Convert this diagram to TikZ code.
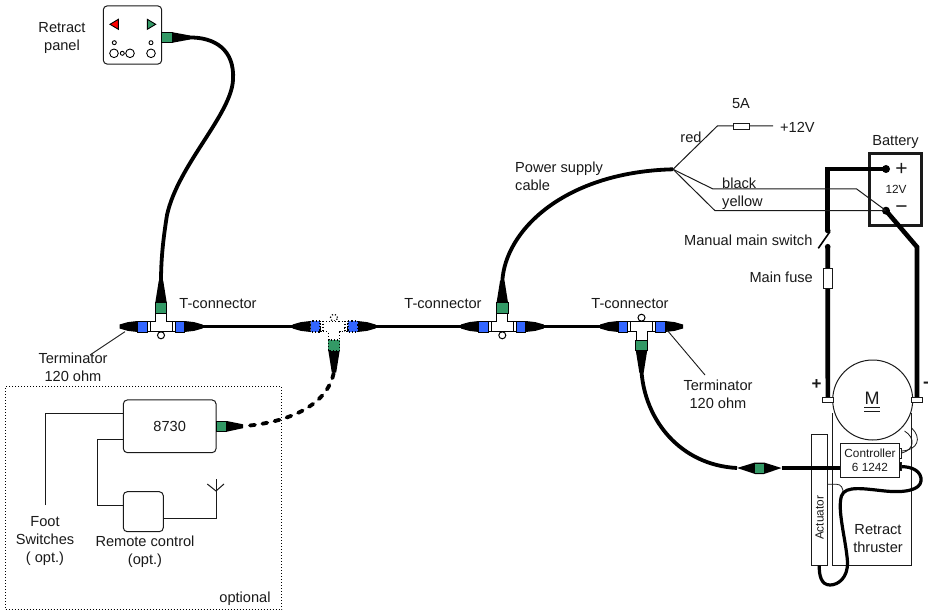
\documentclass[tikz,border=0pt]{standalone}
\usepackage{fontspec}
\setmainfont{Liberation Sans}
\definecolor{cblue}{HTML}{3366FF}
\definecolor{cgreen}{HTML}{339966}
\definecolor{ink}{HTML}{1A1A1A}
\newcommand\TConn[5]{%
 \begin{scope}[shift={(#2,#3)},yscale=#4,#5]
  \fill[black] (-23.5,-5.5) -- (-33,-4.4) -- (-41.5,-2) -- (-41.5,2) -- (-33,4.4) -- (-23.5,5.5) -- cycle;
  \fill[black] (23.5,-5.5) -- (33,-4.4) -- (41.5,-2) -- (41.5,2) -- (33,4.4) -- (23.5,5.5) -- cycle;
  \fill[black] (-5.7,-24) -- (-2.2,-46) -- (2.2,-46) -- (5.7,-24) -- cycle;
  \draw[tcline,fill=white] (0,8.8) circle (3.5);
  \draw[tcline,fill=white] (-11,-5.3) -- (-5.5,-5.3) -- (-5.5,-13.5) -- (5.5,-13.5) -- (5.5,-5.3) -- (11,-5.3) -- (11,5.3) -- (-11,5.3) -- cycle;
  \draw[tcline,fill=white] (-14,-5.3) rectangle (-11,5.3);
  \draw[tcline,fill=white] (14,-5.3) rectangle (11,5.3);
  \draw[tcline,fill=cblue] (-23.5,-5.5) rectangle (-14,5.5);
  \draw[tcline,fill=cblue] (23.5,-5.5) rectangle (14,5.5);
  \draw[tcline,fill=cgreen] (-5.7,-24) rectangle (5.7,-13.5);
  \coordinate (#1-l) at (-41,0);
  \coordinate (#1-r) at (41,0);
  \coordinate (#1-s) at (0,-45);
 \end{scope}}
\tikzset{
 tcline/.style={draw=black,line width=1pt},
 lbl/.style={font=\fontsize{14.6}{17}\selectfont,text=ink,inner sep=0pt,align=center},
 small/.style={font=\fontsize{11.8}{14}\selectfont,text=ink,inner sep=0pt,align=center},
 cable/.style={line width=3.8pt,black},
 thin/.style={line width=1pt,ink},
 power/.style={line width=4.6pt,black},
 rbox/.style={draw=ink,line width=1pt,rounded corners=4pt,fill=white,inner sep=0pt},
 leader/.style={line width=0.9pt,ink}
}
\begin{document}
\begin{tikzpicture}[x=1pt,y=-1pt]
\useasboundingbox[fill=white] (0,0) rectangle (931,612);

% retract panel
\node[rbox,minimum width=58.4pt,minimum height=58.3pt] (panel) at (132.5,35) {};
\fill[red,draw=black,line width=0.9pt] (110,24.3) -- (118.3,19.3) -- (118.3,29.3) -- cycle;
\fill[cgreen,draw=black,line width=0.9pt] (155.7,24.3) -- (147.3,19.3) -- (147.3,29.3) -- cycle;
\draw[line width=0.9pt] (114.3,42.7) circle (2) (151,42.7) circle (2) (114,53.3) circle (4.3) (130,53.3) circle (4.3) (151,53.3) circle (4.3) (122.3,53.3) circle (2);
\fill (172.7,32.3) -- (190,35.5) -- (190,39.5) -- (172.7,42.7) -- cycle;
\draw[tcline,fill=cgreen] (161.7,32.3) rectangle (172.7,42.7);
\coordinate (panelc) at (189,37.5);

% T connectors
\TConn{ta}{161}{326.5}{1}{}
\TConn{tb}{334}{326.5}{-1}{tcline/.style={draw=black,line width=1.2pt,dotted}}
\TConn{tc}{502.3}{326.5}{1}{}
\TConn{td}{641.5}{326.5}{-1}{}

\coordinate (psu) at (673,169.3);
\draw[cable] (panelc) .. controls (215,37) and (235,50) .. (233,80) .. controls (231,115) and (178,165) .. (167,215) .. controls (163,240) and (161,260) .. (ta-s);
\draw[cable] (ta-r) -- (tb-l);
\draw[cable] (tb-r) -- (tc-l);
\draw[cable] (tc-r) -- (td-l);
\draw[cable] (tc-s) .. controls (505,230) and (565,172) .. (psu);

% inline connector
\coordinate (inL) at (737,468);
\coordinate (inR) at (781.5,468);
\fill (inL) -- (755,462.5) -- (764,462.5) -- (inR) -- (764,474) -- (755,474) -- cycle;
\fill[cgreen] (755,463.7) rectangle (764,473.3);
\draw[cable] (td-s) .. controls (645,420) and (680,465) .. (inL);

% power supply branches
\coordinate (redA) at (717.3,126);
\coordinate (plus) at (773,126);
\coordinate (blA) at (713,189);
\coordinate (blB) at (856.7,189);
\coordinate (yeA) at (715,210.7);
\draw[thin] (psu) -- (redA) -- (plus);
\node[draw=ink,line width=1pt,fill=white,minimum width=16pt,minimum height=5.5pt,inner sep=0pt] (fuse5) at (741.3,126.7) {};

% thruster
\draw[thin,fill=white] (811.7,434) rectangle (827.7,565.7);
\node[small,rotate=90] (act) at (819.5,518) {Actuator};
\draw[thin] (832.7,413) -- (832.7,565.7) -- (911.7,565.7) -- (911.7,413);
\node[lbl] (rt) at (878,538.5) {Retract\\[1pt]thruster};
\node[draw=ink,line width=1pt,fill=white,minimum width=58.6pt,minimum height=34.4pt,inner sep=0pt,small] (ctrl) at (870,460.5) {Controller\\[0.5pt]6 1242};
\draw[thin,fill=white] (899.3,448) rectangle (901.8,458);
\draw[thin,line width=0.8pt] (904.5,431) .. controls (916,438) and (914,450) .. (901.8,453);
\draw[thin,line width=0.8pt] (911.7,428) .. controls (922,438) and (918,450) .. (901.8,451);
\draw[thin,line width=0.8pt] (827.7,484.3) -- (836.7,484.3) .. controls (841,484.3) and (843,488) .. (843.3,493);

% motor
\node[draw=ink,line width=1pt,fill=white,circle,minimum size=80pt,inner sep=0pt] (motor) at (872.7,400) {};
\node[font=\fontsize{18}{20}\selectfont,text=ink,inner sep=0pt] (mlab) at (872,398.5) {M};
\draw[line width=1pt,ink] (864,407.3) -- (880,407.3) (864,411.5) -- (880,411.5);
\node[draw=ink,line width=1pt,fill=white,minimum width=11pt,minimum height=5pt,inner sep=0pt] (tpos) at (827.8,399.8) {};
\node[draw=ink,line width=1pt,fill=white,minimum width=11pt,minimum height=5pt,inner sep=0pt] (tneg) at (917,399.8) {};
\node[lbl,font=\fontsize{17}{19}\selectfont\bfseries] (pl) at (816.5,385) {+};
\node[lbl,font=\fontsize{17}{19}\selectfont\bfseries] (mi) at (926,385) {-};

% thick cable controller to actuator
\coordinate (ctrlA) at (899.5,466.7);
\coordinate (actB) at (819.3,565.5);
\draw[cable] (inR) -- (ctrl.west |- inR);
\draw[cable,line width=3.2pt] (ctrlA) .. controls (913,466) and (922,472) .. (921,481) .. controls (920,490) and (905,493) .. (885,491) .. controls (865,489) and (845,485) .. (841.5,496) .. controls (837,510) and (846,540) .. (847.5,562) .. controls (848,578) and (838,585) .. (830,585) .. controls (821,585) and (819,575) .. (actB);
\draw[thin,fill=black] (899.3,462) rectangle (901.5,470);

% battery
\node[draw=ink,line width=3.4pt,minimum width=52pt,minimum height=72pt,inner sep=0pt,fill=white] (batt) at (895.5,189.8) {};
\node[lbl] (blab) at (895.5,142) {Battery};
\node[font=\fontsize{21}{22}\selectfont,text=ink,inner sep=0pt] (bplus) at (901.5,169) {+};
\node[font=\fontsize{21}{22}\selectfont,text=ink,inner sep=0pt] (bminus) at (901.5,209.5) {\textminus};
\node[small] (b12) at (896,189) {12V};

\fill (886,169) circle (4) (886,210.7) circle (4);
\coordinate (bp) at (886,169);
\coordinate (bm) at (886,210.7);
\coordinate (corn) at (827.7,169);
\coordinate (swa) at (827.7,230.5);
\coordinate (swb) at (827.7,246.7);
\coordinate (corn2) at (917,247);
\fill (swa) circle (2.8) (swb) circle (2.8);
\draw[power,line join=miter] (bp) -- (corn) -- (swa);
\draw[line width=1.6pt,black] (830,231.5) -- (818.3,248.3);
\draw[power] (swb) -- (tpos.north);
\draw[power,line join=miter] (bm) -- (corn2) -- (tneg.north);
\node[draw=ink,line width=1pt,fill=white,minimum width=9.4pt,minimum height=20pt,inner sep=0pt] (mfuse) at (828,278.3) {};

\draw[thin] (psu) -- (blA) -- (blB) -- (bm);
\draw[thin] (psu) -- (yeA) -- (bm);

% optional group
\node[draw=black,dotted,line width=1pt,minimum width=276pt,minimum height=223.3pt,inner sep=0pt] (optbox) at (143.7,498.3) {};
\node[rbox,minimum width=92.7pt,minimum height=52.7pt,lbl,text=ink] (dev) at (169.7,426.3) {8730};
\node[rbox,minimum width=40pt,minimum height=40pt] (rem) at (143.3,511.7) {};
\fill (226.7,421) -- (243,424.3) -- (243,428.2) -- (226.7,431.7) -- cycle;
\draw[tcline,fill=cgreen] (216,421) rectangle (226.7,431.7);
\coordinate (devc) at (250,425.5);
\draw[cable,dash pattern=on 5pt off 7.5pt,line cap=round] (devc) .. controls (290,421) and (328,405) .. (tb-s);
\coordinate (footend) at (45,505);
\coordinate (footcorn) at (45,413);
\draw[thin] (footend) -- (footcorn) -- (footcorn -| dev.west);
\coordinate (remup) at (97.7,439.3);
\coordinate (remlo) at (97.7,505);
\draw[thin] (remup -| dev.west) -- (remup) -- (remlo) -- (remlo -| rem.west);
\coordinate (ant) at (216,518);
\coordinate (anttop) at (216,479);
\coordinate (antmid) at (216,491);
\coordinate (antl) at (207.3,484);
\coordinate (antr) at (224,484);
\draw[thin] (ant -| rem.east) -- (ant) -- (anttop);
\draw[thin] (antl) -- (antmid) -- (antr);

% labels
\node[lbl] (n1) at (62,37.5) {Retract\\[1pt]panel};
\node[lbl] (n2) at (218,304) {T-connector};
\node[lbl] (n3) at (443,304) {T-connector};
\node[lbl] (n4) at (630,304) {T-connector};
\node[lbl] (n5) at (73,367) {Terminator\\[1pt]120 ohm};
\node[lbl] (n6) at (718,394) {Terminator\\[1pt]120 ohm};
\coordinate (lead1) at (125,331.7);
\coordinate (lead2) at (667,330);
\draw[leader] (lead1) -- (90,355);
\draw[leader] (lead2) -- (705,375);
\node[lbl,align=left,anchor=west] (n7) at (515,176.5) {Power supply\\[1pt]cable};
\node[lbl] (n8) at (741,104) {5A};
\node[lbl,anchor=west] (n9) at (780,127) {+12V};
\node[lbl] (n10) at (691,137) {red};
\node[lbl,anchor=west] (n11) at (722,183) {black};
\node[lbl,anchor=west] (n12) at (722,203) {yellow};
\node[lbl,anchor=west] (n13) at (684,240) {Manual main switch};
\node[lbl,anchor=east] (n14) at (813,277) {Main fuse};
\node[lbl] (n15) at (45,541) {Foot\\[1pt]Switches\\[1pt]( opt.)};
\node[lbl] (n16) at (145,552) {Remote control\\[1pt](opt.)};
\node[lbl] (n17) at (245,599) {optional};
\end{tikzpicture}
\end{document}
